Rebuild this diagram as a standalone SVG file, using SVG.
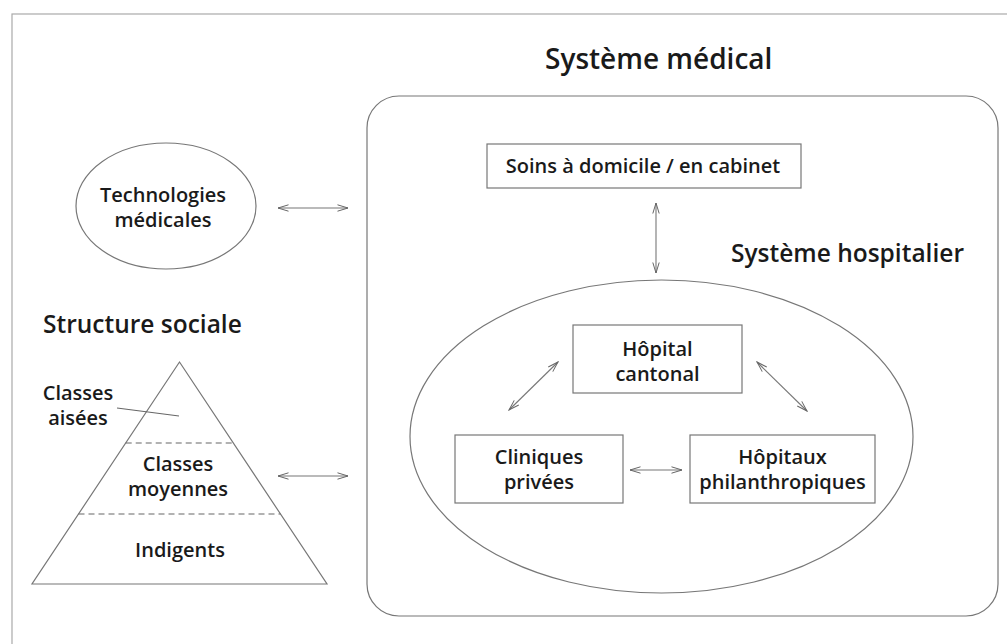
<svg xmlns="http://www.w3.org/2000/svg" width="1007" height="644" viewBox="0 0 1007 644">
<defs>
<style>
text{font-family:"Open Sans","Noto Sans","Liberation Sans",sans-serif;font-weight:600;fill:#1a1a1a;text-anchor:middle}
.t20{font-size:20px}
.h24{font-size:24.5px;text-anchor:start}
.h28{font-size:28px;text-anchor:start}
.box{fill:#fff;stroke:#777;stroke-width:1.2}
.shape{fill:none;stroke:#777;stroke-width:1.2}
.dash{stroke:#666;stroke-width:1.2;stroke-dasharray:6 4}
.arr{stroke:#777;stroke-width:1.1;fill:none;marker-start:url(#ah);marker-end:url(#ah)}
</style>
<marker id="ah" viewBox="0 0 12 8" refX="11" refY="4" markerWidth="12" markerHeight="8" orient="auto-start-reverse" markerUnits="userSpaceOnUse">
<path d="M0.5,0.8 L11,4 L0.5,7.2" fill="none" stroke="#666" stroke-width="1"/>
</marker>
</defs>
<rect x="0" y="0" width="1007" height="644" fill="#fff"/>
<rect id="frame" x="12" y="14" width="1010" height="650" fill="none" stroke="#aaa" stroke-width="1.2"/>

<text class="h28" x="545" y="69">Système médical</text>

<g id="systeme-medical">
<rect x="367" y="96" width="631" height="520" rx="32" ry="32" class="shape"/>
</g>

<g id="soins">
<rect x="487" y="144" width="314" height="44" class="box"/>
<text class="t20" x="643" y="173">Soins à domicile / en cabinet</text>
</g>

<text class="h24" x="731" y="262">Système hospitalier</text>

<g id="systeme-hospitalier">
<ellipse cx="661.5" cy="436.5" rx="251.5" ry="156.5" class="shape"/>
</g>

<g id="hopital-cantonal">
<rect x="573" y="325" width="169" height="68" class="box"/>
<text class="t20" x="657.5" y="356">Hôpital</text>
<text class="t20" x="657.5" y="381">cantonal</text>
</g>

<g id="cliniques-privees">
<rect x="455" y="435" width="168" height="68" class="box"/>
<text class="t20" x="539" y="464">Cliniques</text>
<text class="t20" x="539" y="489">privées</text>
</g>

<g id="hopitaux-philanthropiques">
<rect x="690" y="435" width="185" height="68" class="box"/>
<text class="t20" x="782.5" y="464">Hôpitaux</text>
<text class="t20" x="782.5" y="489">philanthropiques</text>
</g>

<g id="technologies-medicales">
<ellipse cx="166" cy="206" rx="90" ry="63" class="shape"/>
<text class="t20" x="163" y="202">Technologies</text>
<text class="t20" x="163" y="227">médicales</text>
</g>

<text class="h24" x="43" y="333">Structure sociale</text>

<g id="structure-sociale">
<polygon points="179.5,362 327,584 32,584" class="shape"/>
<line x1="125.7" y1="443" x2="233.3" y2="443" class="dash"/>
<line x1="78.5" y1="514" x2="280.5" y2="514" class="dash"/>
<text class="t20" x="78" y="400">Classes</text>
<text class="t20" x="78" y="425">aisées</text>
<line x1="117" y1="408" x2="179" y2="416" stroke="#666" stroke-width="1.1"/>
<text class="t20" x="178" y="471">Classes</text>
<text class="t20" x="178" y="496">moyennes</text>
<text class="t20" x="180" y="557">Indigents</text>
</g>

<g id="connectors">
<line x1="278" y1="208" x2="348" y2="208" class="arr"/>
<line x1="278" y1="476" x2="348" y2="476" class="arr"/>
<line x1="656" y1="203" x2="656" y2="273" class="arr"/>
<line x1="509" y1="410" x2="558" y2="362" class="arr"/>
<line x1="757" y1="362" x2="807" y2="411" class="arr"/>
<line x1="630" y1="470" x2="682" y2="470" class="arr"/>
</g>
</svg>
